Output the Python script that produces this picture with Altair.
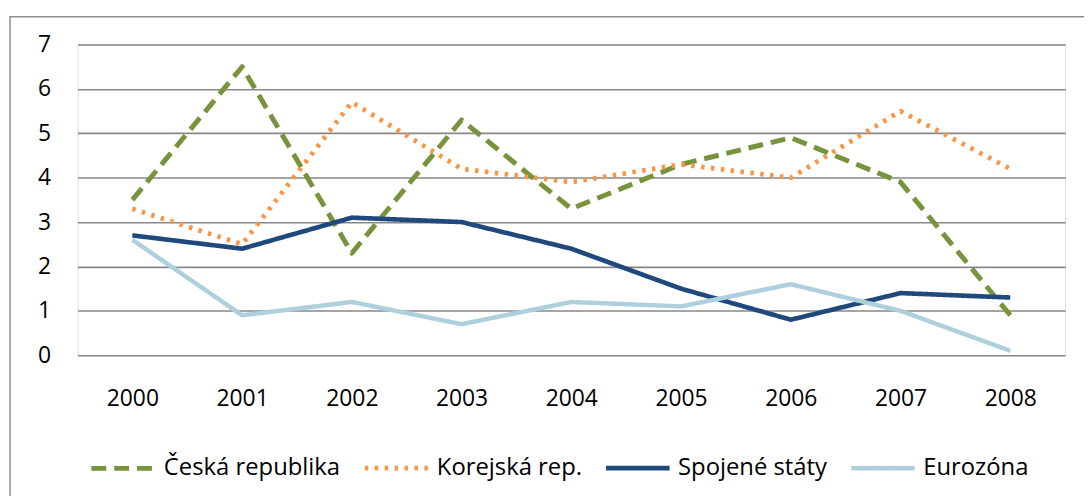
import altair as alt
import pandas as pd

years = ["2000", "2001", "2002", "2003", "2004", "2005", "2006", "2007", "2008"]
series_names = ["Česká republika", "Korejská rep.", "Spojené státy", "Eurozóna"]
ceska = [3.5, 6.5, 2.3, 5.3, 3.3, 4.3, 4.9, 3.9, 0.9]
korejska = [3.3, 2.5, 5.7, 4.2, 3.9, 4.3, 4.0, 5.5, 4.2]
spojene = [2.7, 2.4, 3.1, 3.0, 2.4, 1.5, 0.8, 1.4, 1.3]
eurozona = [2.6, 0.9, 1.2, 0.7, 1.2, 1.1, 1.6, 1.0, 0.1]
y_ticks = [0, 1, 2, 3, 4, 5, 6, 7]

colors = ["#77933C", "#F79646", "#1F497D", "#AED0DC"]
dashes = [[15, 8], [3.5, 6.5], [1, 0], [1, 0]]
widths = [5, 4.5, 4.5, 4.5]

rows = []
for name, vals in zip(series_names, [ceska, korejska, spojene, eurozona]):
    for yr, v in zip(years, vals):
        rows.append({"Rok": yr, "Hodnota": v, "Řada": name})
df = pd.DataFrame(rows)

FONT = "Open Sans"

lines = alt.Chart(df).mark_line(strokeCap="butt", strokeJoin="round").encode(
    x=alt.X("Rok:O", sort=years,
            scale=alt.Scale(type="point", padding=0.5),
            axis=alt.Axis(title=None, labelAngle=0, ticks=False, domain=False,
                          grid=False, labelPadding=33, labelFontSize=23,
                          labelFont=FONT, labelColor="#000000")),
    y=alt.Y("Hodnota:Q", scale=alt.Scale(domain=[0, 7], nice=False),
            axis=alt.Axis(title=None, values=y_ticks, ticks=False, domain=False,
                          grid=True, gridColor="#878787", gridWidth=1.6,
                          labelPadding=27, labelFontSize=23, labelFont=FONT,
                          labelColor="#000000")),
    color=alt.Color("Řada:N", sort=series_names,
                    scale=alt.Scale(domain=series_names, range=colors),
                    legend=alt.Legend(title=None, orient="none", direction="horizontal",
                                      legendX=11, legendY=392, symbolType="stroke",
                                      symbolSize=4100, symbolStrokeWidth=5,
                                      labelFontSize=24, labelFont=FONT,
                                      labelColor="#000000", labelOffset=6,
                                      columnPadding=14, labelLimit=400, padding=0)),
    strokeDash=alt.StrokeDash("Řada:N", sort=series_names,
                              scale=alt.Scale(domain=series_names, range=dashes),
                              legend=None),
    strokeWidth=alt.StrokeWidth("Řada:N", sort=series_names,
                                scale=alt.Scale(domain=series_names, range=widths),
                                legend=None),
    order=alt.Order("Rok:O"),
)

border = alt.Chart(pd.DataFrame({"b": [0]})).mark_rect(
    fill=None, stroke="#8f8f8f", strokeWidth=1.5
).encode(
    x=alt.value(-68), x2=alt.value(1040), y=alt.value(-28), y2=alt.value(480)
)

chart = alt.layer(border, lines).properties(
    width=995, height=313,
    autosize=alt.AutoSizeParams(type="none"),
    padding={"left": 70, "top": 35, "right": 19, "bottom": 140},
).configure_view(stroke=None).configure(background="white")

chart.save("out.html", embed_options={"renderer": "svg", "actions": False})
